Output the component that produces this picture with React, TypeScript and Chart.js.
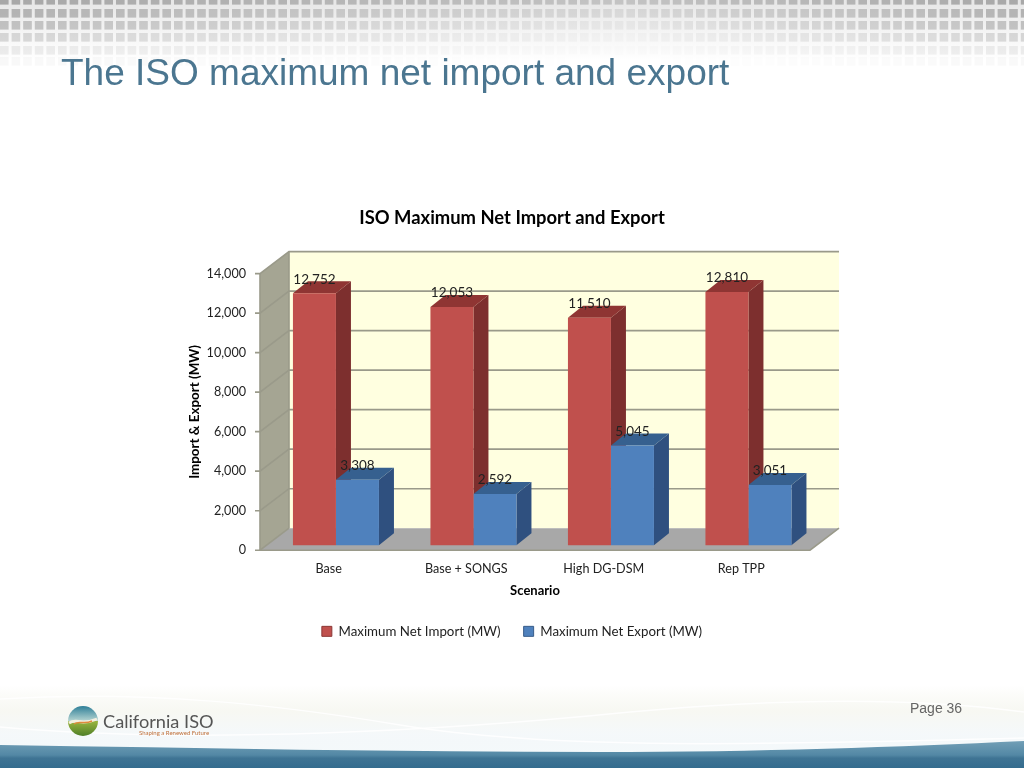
import React, { useEffect, useRef } from "react";
import { Chart, registerables } from "chart.js";

Chart.register(...registerables);

const chartTitle = "ISO Maximum Net Import and Export";
const slideTitle = "The ISO maximum net import and export";
const scenarios = ["Base", "Base + SONGS", "High DG-DSM", "Rep TPP"];
const importMW = [12752, 12053, 11510, 12810];
const exportMW = [3308, 2592, 5045, 3051];
const yTickStep = 2000;
const yMax = 14000;

const FONT = "Lato";
const DEPTH = { x: 29, y: -22 };
const BAR_SHIFT = { x: 7.2, y: -5 };
const BAR_DEPTH = { x: 15, y: -12 };
const sideColors = ["#7d2f2e", "#2f507f"];
const topColors = ["#8f3533", "#36608f"];
const legendEdges = ["#8c3836", "#385d8a"];

function poly(ctx: CanvasRenderingContext2D, pts: number[][], fill: string) {
  ctx.beginPath();
  pts.forEach((p, i) => (i ? ctx.lineTo(p[0], p[1]) : ctx.moveTo(p[0], p[1])));
  ctx.closePath();
  ctx.fillStyle = fill;
  ctx.fill();
}

function drawSlideBackground(ctx: CanvasRenderingContext2D) {
  const W = 1024;
  ctx.save();
  ctx.fillStyle = "#fff";
  ctx.fillRect(0, 0, W, 768);

  // top band of squares
  const topGrad = ctx.createLinearGradient(0, 0, 0, 60);
  topGrad.addColorStop(0, "#e6e6e6");
  topGrad.addColorStop(0.6, "#f6f6f6");
  topGrad.addColorStop(1, "#ffffff");
  ctx.fillStyle = topGrad;
  ctx.fillRect(0, 0, W, 60);
  const rows = [-4, 9, 21, 33, 46, 57];
  const rowEnd = [0.9, 0.75, 0.6, 0.38, 0.18, 0.07];
  const rowMid = [0.5, 0.25, 0.12, 0.05, 0.02, 0];
  rows.forEach((y, r) => {
    for (let c = 0; c < 90; c++) {
      const x = c * 11.6;
      const f = x < 620 ? (620 - x) / 620 : (x - 620) / 404;
      const a = rowMid[r] + (rowEnd[r] - rowMid[r]) * f;
      ctx.fillStyle = `rgba(160,160,160,${a})`;
      ctx.fillRect(x, y, 8.6, 8.6);
    }
  });

  // bottom soft swoosh
  const soft = ctx.createLinearGradient(0, 685, 0, 750);
  soft.addColorStop(0, "rgba(240,241,230,0)");
  soft.addColorStop(0.4, "rgba(242,243,234,0.6)");
  soft.addColorStop(0.75, "rgba(238,244,247,0.6)");
  soft.addColorStop(1, "rgba(243,248,250,0.9)");
  ctx.fillStyle = soft;
  ctx.fillRect(0, 685, W, 67);

  ctx.lineWidth = 1.5;
  ctx.strokeStyle = "rgba(255,255,255,0.85)";
  ctx.beginPath();
  ctx.moveTo(0, 699);
  ctx.bezierCurveTo(150, 690, 280, 705, 400, 725);
  ctx.bezierCurveTo(550, 750, 760, 745, 1024, 738);
  ctx.stroke();
  ctx.beginPath();
  ctx.moveTo(0, 727);
  ctx.bezierCurveTo(200, 745, 450, 730, 630, 712);
  ctx.bezierCurveTo(760, 700, 900, 695, 1024, 712);
  ctx.stroke();

  // bottom blue band
  const band = ctx.createLinearGradient(0, 742, 0, 768);
  band.addColorStop(0, "#6f9db5");
  band.addColorStop(0.5, "#5388a5");
  band.addColorStop(0.62, "#3f7494");
  band.addColorStop(1, "#346c8e");
  ctx.beginPath();
  ctx.moveTo(0, 745);
  ctx.bezierCurveTo(200, 748, 400, 752, 600, 752);
  ctx.bezierCurveTo(760, 752, 900, 747, W, 741);
  ctx.lineTo(W, 768);
  ctx.lineTo(0, 768);
  ctx.closePath();
  ctx.fillStyle = band;
  ctx.fill();

  // logo globe
  const cx = 83, cy = 721, rad = 15;
  const sky = ctx.createLinearGradient(0, cy - rad, 0, cy);
  sky.addColorStop(0, "#2f7f98");
  sky.addColorStop(1, "#b6d5d2");
  ctx.fillStyle = sky;
  ctx.beginPath();
  ctx.arc(cx, cy, rad, Math.PI, 0);
  ctx.fill();
  const land = ctx.createLinearGradient(0, cy, 0, cy + rad);
  land.addColorStop(0, "#9bb63f");
  land.addColorStop(1, "#4f7f28");
  ctx.fillStyle = land;
  ctx.beginPath();
  ctx.arc(cx, cy, rad, 0, Math.PI);
  ctx.fill();
  ctx.strokeStyle = "#f4efe0";
  ctx.lineWidth = 3;
  ctx.beginPath();
  ctx.moveTo(cx - 14, cy + 2);
  ctx.bezierCurveTo(cx - 6, cy - 3, cx - 2, cy + 5, cx + 14, cy - 2);
  ctx.stroke();
  ctx.strokeStyle = "#e08a3c";
  ctx.lineWidth = 1.5;
  ctx.beginPath();
  ctx.moveTo(cx - 9, cy + 3);
  ctx.bezierCurveTo(cx - 4, cy - 1, cx + 1, cy + 4, cx + 9, cy);
  ctx.stroke();
  ctx.restore();
}

const plot3D = {
  id: "plot3D",
  beforeDraw(chart: any) {
    drawSlideBackground(chart.ctx);
  },
  beforeDatasetsDraw(chart: any) {
    const { ctx, scales } = chart;
    const x = scales.x, y = scales.y;
    const L = x.left, R = x.right, T = y.top, B = y.bottom;
    const dx = DEPTH.x, dy = DEPTH.y;
    ctx.save();
    poly(ctx, [[L + dx, T + dy], [R + dx, T + dy], [R + dx, B + dy], [L + dx, B + dy]], "#ffffe0");
    poly(ctx, [[L, T], [L + dx, T + dy], [L + dx, B + dy], [L, B]], "#a5a593");
    poly(ctx, [[L, B], [L + dx, B + dy], [R + dx, B + dy], [R, B]], "#a8a8a8");
    ctx.strokeStyle = "#9a9a8a";
    ctx.lineWidth = 1.6;
    y.ticks.forEach((t: any) => {
      const py = y.getPixelForValue(t.value);
      ctx.beginPath();
      ctx.moveTo(L - 5, py);
      ctx.lineTo(L, py);
      ctx.lineTo(L + dx, py + dy);
      if (t.value !== 0) ctx.lineTo(R + dx, py + dy);
      ctx.stroke();
    });
    ctx.beginPath();
    ctx.moveTo(L, T);
    ctx.lineTo(L, B);
    ctx.lineTo(R, B);
    ctx.lineTo(R + dx, B + dy);
    ctx.stroke();
    ctx.beginPath();
    ctx.moveTo(L + dx, T + dy);
    ctx.lineTo(L + dx, B + dy);
    ctx.stroke();
    ctx.restore();

    // bar side and top faces
    ctx.save();
    ctx.translate(BAR_SHIFT.x, BAR_SHIFT.y);
    [0, 1].forEach((ds) => {
      chart.getDatasetMeta(ds).data.forEach((bar: any) => {
        const p = bar.getProps(["x", "y", "base", "width"], true);
        const l = p.x - p.width / 2, r = p.x + p.width / 2;
        const bx = BAR_DEPTH.x, by = BAR_DEPTH.y;
        poly(ctx, [[r, p.y], [r + bx, p.y + by], [r + bx, p.base + by], [r, p.base]], sideColors[ds]);
        poly(ctx, [[l, p.y], [l + bx, p.y + by], [r + bx, p.y + by], [r, p.y]], topColors[ds]);
      });
    });
    ctx.restore();

    // the bar fronts share the same offset
    ctx.save();
    ctx.translate(BAR_SHIFT.x, BAR_SHIFT.y);
  },
  afterDatasetsDraw(chart: any) {
    const { ctx } = chart;
    ctx.restore();
    ctx.save();
    ctx.font = `13.5px ${FONT}`;
    ctx.fillStyle = "#222";
    ctx.textAlign = "center";
    ctx.textBaseline = "middle";
    chart.data.datasets.forEach((ds: any, i: number) => {
      chart.getDatasetMeta(i).data.forEach((bar: any, j: number) => {
        const p = bar.getProps(["x", "y"], true);
        ctx.fillText(ds.data[j].toLocaleString("en-US"), p.x + BAR_SHIFT.x, p.y + BAR_SHIFT.y - 14);
      });
    });
    ctx.restore();
  },
};

export default function App() {
  const ref = useRef<HTMLCanvasElement>(null);
  useEffect(() => {
    const chart = new Chart(ref.current as HTMLCanvasElement, {
      type: "bar",
      data: {
        labels: scenarios,
        datasets: [
          { label: "Maximum Net Import (MW)", data: importMW, backgroundColor: "#c0504d", borderWidth: 0, clip: false as any },
          { label: "Maximum Net Export (MW)", data: exportMW, backgroundColor: "#4f81bd", borderWidth: 0, clip: false as any },
        ],
      },
      options: {
        responsive: false,
        animation: false,
        devicePixelRatio: 1,
        layout: { padding: { top: 207, bottom: 120, left: 0, right: 0 } },
        datasets: { bar: { categoryPercentage: 0.6255, barPercentage: 1 } },
        plugins: {
          title: {
            display: true,
            text: chartTitle,
            color: "#000",
            font: { family: FONT, size: 18.4, weight: "bold" },
            padding: { top: 0, bottom: 44.5 },
          },
          legend: {
            position: "bottom",
            labels: {
              boxWidth: 10,
              boxHeight: 10,
              color: "#222",
              font: { family: FONT, size: 13.3 },
              padding: 23,
              generateLabels: (c: any) =>
                c.data.datasets.map((d: any, i: number) => ({
                  text: d.label,
                  fillStyle: d.backgroundColor,
                  strokeStyle: legendEdges[i],
                  lineWidth: 1,
                  fontColor: "#222",
                  datasetIndex: i,
                })),
            },
          },
          tooltip: { enabled: false },
        },
        scales: {
          x: {
            grid: { display: false, drawTicks: false },
            border: { display: false },
            ticks: { color: "#222", font: { family: FONT, size: 12.6 }, padding: 11, maxRotation: 0 },
            title: {
              display: true,
              text: "Scenario",
              color: "#000",
              font: { family: FONT, size: 13, weight: "bold" },
              padding: { top: 0, bottom: 3 },
            },
            afterFit: (s: any) => { s.height = 51.5; },
          },
          y: {
            min: 0,
            max: yMax,
            grid: { display: false, drawTicks: false },
            border: { display: false },
            ticks: {
              stepSize: yTickStep,
              color: "#222",
              font: { family: FONT, size: 12.6 },
              padding: 14,
              callback: (v: any) => Number(v).toLocaleString("en-US"),
            },
            title: {
              display: true,
              text: "Import & Export (MW)",
              color: "#000",
              font: { family: FONT, size: 13.4, weight: "bold" },
              padding: { top: 187, bottom: 0 },
            },
            afterFit: (s: any) => { s.width = 260; },
          },
          spacer: {
            type: "linear",
            position: "right",
            display: true,
            grid: { display: false, drawTicks: false },
            border: { display: false },
            ticks: { display: false },
            afterFit: (s: any) => { s.width = 214; },
          },
        },
      } as any,
      plugins: [plot3D],
    });
    return () => chart.destroy();
  }, []);

  return (
    <div style={{ position: "absolute", left: 0, top: 0, width: 1024, height: 768, overflow: "hidden", background: "#fff" }}>
      <canvas ref={ref} width={1024} height={768} style={{ position: "absolute", left: 0, top: 0, display: "block" }} />
      <div style={{ position: "absolute", left: 61, top: 52, font: "37px 'Liberation Sans'", color: "#4b7690", whiteSpace: "nowrap" }}>{slideTitle}</div>
      <div style={{ position: "absolute", left: 910, top: 700, font: "14px 'Liberation Sans'", color: "#666", whiteSpace: "nowrap" }}>Page 36</div>
      <div style={{ position: "absolute", left: 103, top: 710, font: "18.2px 'Lato'", color: "#555", whiteSpace: "nowrap" }}>California ISO</div>
      <div style={{ position: "absolute", left: 139, top: 729, font: "6px 'Lato'", color: "#c0703a", whiteSpace: "nowrap" }}>Shaping a Renewed Future</div>
    </div>
  );
}
